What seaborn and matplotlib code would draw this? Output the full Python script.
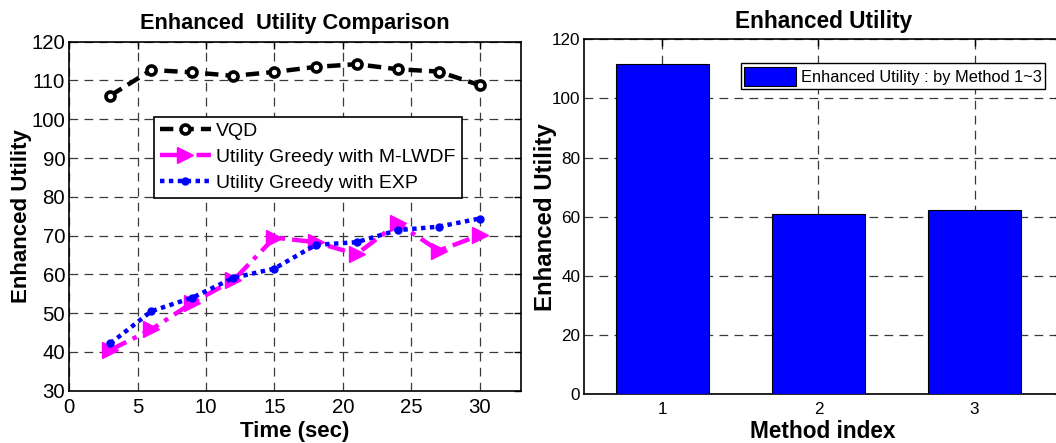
import matplotlib
matplotlib.use("Agg")
import matplotlib.pyplot as plt
import seaborn as sns
import pandas as pd

# Time-series data (seconds vs. enhanced utility)
time_sec = [3, 6, 9, 12, 15, 18, 21, 24, 27, 30]
vqd = [106.1, 112.7, 112.1, 111.2, 112.2, 113.5, 114.2, 112.9, 112.3, 108.8]
greedy_mlwdf = [40.5, 45.8, 52.7, 58.5, 69.5, 68.3, 65.2, 73.2, 66.1, 70.1]
greedy_exp = [42.2, 50.5, 54.0, 59.1, 61.5, 67.6, 68.3, 71.4, 72.3, 74.4]
series_names = ["VQD", "Utility Greedy with M-LWDF", "Utility Greedy with EXP"]

# Per-method averages
method_index = ["1", "2", "3"]
method_utility = [111.6, 60.8, 62.2]

sns.set_theme(style="white")
plt.rcParams["font.family"] = ["Liberation Sans", "DejaVu Sans"]
plt.rcParams["axes.edgecolor"] = "black"
plt.rcParams["axes.linewidth"] = 1.2
plt.rcParams["text.color"] = "black"
plt.rcParams["axes.labelcolor"] = "black"

fig = plt.figure(figsize=(10.56, 4.43), dpi=100)
W, H = 1056, 443
ax1 = fig.add_axes([69.3 / W, 1 - 390.7 / H, (520.7 - 69.3) / W, (390.7 - 41.7) / H])
ax2 = fig.add_axes([584.3 / W, 1 - 394 / H, (1062 - 584.3) / W, (394 - 39.3) / H])

grid_kw = dict(color="#3a3a3a", linestyle=(0, (7, 5)), linewidth=0.9)

# ---- Left: line comparison ----
df = pd.DataFrame({
    "t": time_sec * 3,
    "u": vqd + greedy_mlwdf + greedy_exp,
    "s": [series_names[0]] * 10 + [series_names[1]] * 10 + [series_names[2]] * 10,
})
styles = {
    series_names[0]: dict(color="black", ls=(0, (3.0, 1.6)), marker="o", ms=6.5,
                          mfc="white", mec="black", mew=2.6),
    series_names[1]: dict(color="#ff00ff", ls=(0, (4.0, 1.6, 1.0, 1.6)), marker=">", ms=12,
                          mfc="#ff00ff", mec="#ff00ff", mew=1),
    series_names[2]: dict(color="#0000ff", ls=(0, (1.0, 1.0)), marker="o", ms=5,
                          mfc="#0000ff", mec="#0000ff", mew=1),
}
for name in series_names:
    st = styles[name]
    sns.lineplot(data=df[df["s"] == name], x="t", y="u", ax=ax1, label=name,
                 color=st["color"], linestyle=st["ls"], linewidth=3.2,
                 marker=st["marker"], markersize=st["ms"],
                 markerfacecolor=st["mfc"], markeredgecolor=st["mec"],
                 markeredgewidth=st["mew"], zorder=3)

ax1.set_xlim(0, 33)
ax1.set_ylim(30, 120)
ax1.set_xticks(range(0, 31, 5))
ax1.set_yticks(range(30, 121, 10))
ax1.grid(True, **grid_kw)
ax1.set_axisbelow(True)
ax1.tick_params(direction="in", length=5, width=1, top=True, right=True,
                labelsize=14.7, colors="black", pad=3)
ax1.tick_params(axis="x", pad=5)
ax1.set_title("Enhanced  Utility Comparison", fontsize=15.7, fontweight="bold", pad=9)
ax1.set_xlabel("Time (sec)", fontsize=16, fontweight="bold")
ax1.set_ylabel("Enhanced Utility", fontsize=16, fontweight="bold")
ax1.xaxis.set_label_coords(0.5, -0.088)
ax1.yaxis.set_label_coords(-0.083, 0.5)
leg1 = ax1.legend(loc="upper left", bbox_to_anchor=(0.188, 0.785), fontsize=14,
                  frameon=True, fancybox=False, edgecolor="black", framealpha=1,
                  handlelength=2.6, handletextpad=0.3, borderpad=0.3, labelspacing=0.42,
                  borderaxespad=0)
leg1.get_frame().set_linewidth(1.2)

# ---- Right: bar chart ----
bdf = pd.DataFrame({"m": method_index, "v": method_utility})
sns.barplot(data=bdf, x="m", y="v", ax=ax2, color="#0000ff", saturation=1, width=0.6,
            edgecolor="black", linewidth=0.8, label="Enhanced Utility : by Method 1~3",
            zorder=3)
ax2.set_xlim(-0.5, 2.56)
ax2.set_ylim(0, 120)
ax2.set_yticks(range(0, 121, 20))
ax2.grid(True, **grid_kw)
ax2.set_axisbelow(True)
ax2.tick_params(direction="in", length=5, width=1, top=True, right=True,
                labelsize=12.3, colors="black", pad=3)
ax2.tick_params(axis="x", pad=6)
ax2.set_title("Enhanced Utility", fontsize=16.3, fontweight="bold", pad=8)
ax2.set_xlabel("Method index", fontsize=16.3, fontweight="bold")
ax2.set_ylabel("Enhanced Utility", fontsize=17.3, fontweight="bold")
ax2.xaxis.set_label_coords(0.5, -0.074)
ax2.yaxis.set_label_coords(-0.058, 0.5)
leg2 = ax2.legend(loc="upper left", bbox_to_anchor=(0.327, 0.932), fontsize=11.8,
                  frameon=True, fancybox=False, edgecolor="black", framealpha=1,
                  handlelength=3.2, handleheight=1.4, handletextpad=0.3, borderpad=0.2,
                  borderaxespad=0)
leg2.get_frame().set_linewidth(1.0)

fig.savefig("out.png", dpi=100)
